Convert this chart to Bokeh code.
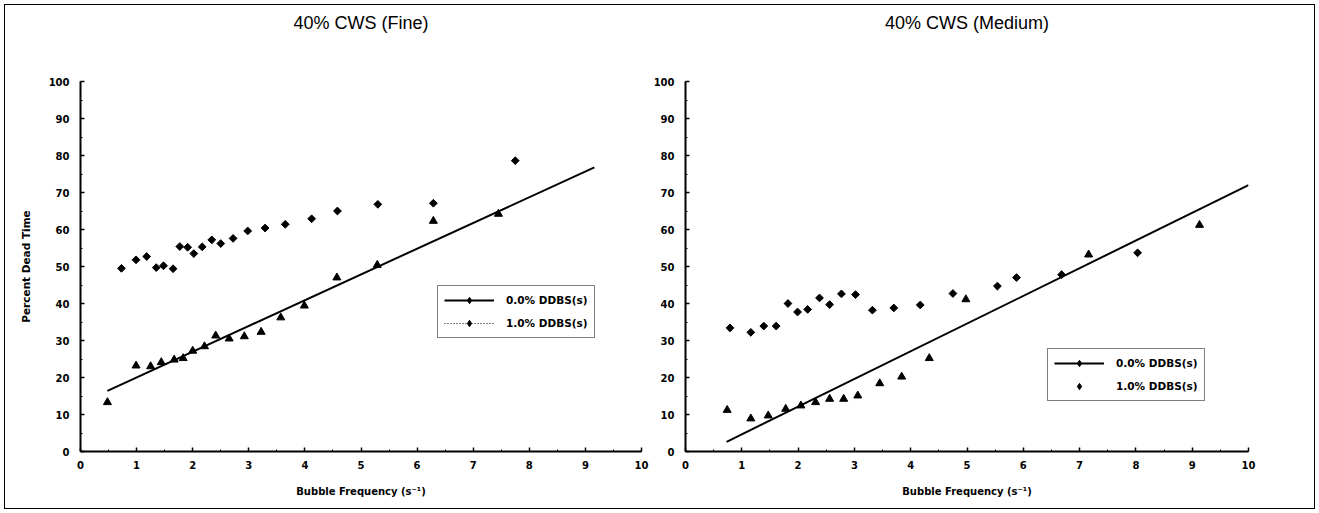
from bokeh.plotting import figure
from bokeh.models import Range1d, SingleIntervalTicker, Legend, LegendItem, ColumnDataSource, Title
from bokeh.layouts import row
from bokeh.embed import file_html
from bokeh.resources import INLINE

# ---------------- data ----------------
titles = ["40% CWS (Fine)", "40% CWS (Medium)"]
series_labels = ["0.0% DDBS(s)", "1.0% DDBS(s)"]
x_label = "Bubble Frequency (s\u207b\u00b9)"
y_label = "Percent Dead Time"

# 40% CWS (Fine)
fine_x0 = [0.48, 0.99, 1.25, 1.44, 1.67, 1.83, 2.00, 2.21, 2.41, 2.65, 2.92, 3.22, 3.57, 3.99, 4.57, 5.29, 6.29, 7.45]
fine_y0 = [13.3, 23.2, 23.0, 24.1, 24.8, 25.2, 27.2, 28.4, 31.3, 30.5, 31.1, 32.3, 36.2, 39.4, 47.0, 50.4, 62.3, 64.2]
fine_x1 = [0.73, 0.99, 1.18, 1.35, 1.48, 1.65, 1.77, 1.91, 2.02, 2.17, 2.34, 2.50, 2.72, 2.98, 3.29, 3.65, 4.12, 4.58, 5.30, 6.29, 7.75]
fine_y1 = [49.5, 51.8, 52.7, 49.7, 50.2, 49.4, 55.4, 55.2, 53.5, 55.3, 57.2, 56.2, 57.6, 59.6, 60.4, 61.4, 62.9, 65.0, 66.8, 67.1, 78.6]
fine_fit_x = [0.48, 9.16]
fine_fit_y = [16.4, 76.8]

# 40% CWS (Medium)
med_x0 = [0.74, 1.16, 1.47, 1.78, 2.05, 2.31, 2.56, 2.81, 3.06, 3.45, 3.84, 4.33, 4.98, 7.16, 9.13]
med_y0 = [11.2, 8.9, 9.7, 11.5, 12.4, 13.3, 14.2, 14.2, 15.1, 18.4, 20.2, 25.2, 41.1, 53.2, 61.2]
med_x1 = [0.79, 1.16, 1.39, 1.61, 1.82, 1.99, 2.17, 2.38, 2.56, 2.77, 3.02, 3.32, 3.70, 4.17, 4.75, 5.54, 5.88, 6.68, 8.03]
med_y1 = [33.4, 32.2, 33.9, 33.9, 40.0, 37.7, 38.4, 41.5, 39.7, 42.6, 42.4, 38.2, 38.8, 39.6, 42.7, 44.7, 47.0, 47.8, 53.7]
med_fit_x = [0.73, 10.0]
med_fit_y = [2.6, 72.0]

SMALL_FONT = "DejaVu Sans"
NAN = float("nan")


def make_fig(title, width, left, right, show_ylabel):
    p = figure(width=width, height=513, output_backend="svg", toolbar_location=None,
               x_range=Range1d(0, 10), y_range=Range1d(0, 100),
               min_border_left=left, min_border_right=right,
               min_border_top=81, min_border_bottom=62)
    p.outline_line_color = None
    p.grid.visible = False
    p.background_fill_color = None
    p.border_fill_color = None

    # visible title (outermost) and a blank spacer title nearest the frame
    p.title.text = title
    p.title.align = "center"
    p.title.text_font = "Liberation Sans"
    p.title.text_font_style = "normal"
    p.title.text_font_size = "18px"
    p.title.text_color = "black"
    p.title.standoff = 0
    p.add_layout(Title(text=" ", text_font_size="10px", standoff=36), "above")

    p.xaxis.ticker = SingleIntervalTicker(interval=1, num_minor_ticks=2)
    p.yaxis.ticker = SingleIntervalTicker(interval=10, num_minor_ticks=2)
    for ax in (p.xaxis, p.yaxis):
        ax.axis_line_color = "black"
        ax.axis_line_width = 2
        ax.major_tick_in = 4
        ax.major_tick_out = 0
        ax.minor_tick_in = 2
        ax.minor_tick_out = 0
        ax.major_tick_line_color = "black"
        ax.minor_tick_line_color = "black"
        ax.major_tick_line_width = 1.5
        ax.major_label_text_font = SMALL_FONT
        ax.major_label_text_font_style = "bold"
        ax.major_label_text_font_size = "10px"
        ax.major_label_text_color = "black"
        ax.axis_label_text_font = SMALL_FONT
        ax.axis_label_text_font_style = "bold"
        ax.axis_label_text_font_size = "10px"
        ax.axis_label_text_color = "black"
    p.yaxis.major_label_standoff = 11
    p.xaxis.major_label_standoff = 9
    p.xaxis.axis_label = x_label
    p.xaxis.axis_label_standoff = 14
    if show_ylabel:
        p.yaxis.axis_label = y_label
        p.yaxis.axis_label_text_font_size = "10.5px"
        p.yaxis.axis_label_standoff = 14
    return p


def style_legend(lg):
    lg.border_line_color = "black"
    lg.border_line_width = 1.5
    lg.background_fill_color = "white"
    lg.background_fill_alpha = 1.0
    lg.label_text_font = SMALL_FONT
    lg.label_text_font_style = "bold"
    lg.label_text_font_size = "10.5px"
    lg.label_text_color = "black"
    lg.glyph_width = 50
    lg.glyph_height = 16
    lg.label_height = 16
    lg.spacing = 7
    lg.padding = 6
    lg.margin = 0
    lg.label_standoff = 12


TRI = dict(marker="triangle", size=8, color="black")
DIA = dict(marker="square", angle=0.785398, size=5.5, color="black")
LEG_DIA = dict(marker="diamond", size=8, color="black")


def dummy_source():
    return ColumnDataSource(data=dict(x=[NAN], y=[NAN]))


# ---------------- left: Fine ----------------
p1 = make_fig(titles[0], 650, 80, 9, True)
fit1 = p1.line(fine_fit_x, fine_fit_y, line_color="black", line_width=2)
p1.scatter(fine_x0, fine_y0, **TRI)
p1.scatter(fine_x1, fine_y1, **DIA)
mk1 = p1.scatter("x", "y", source=dummy_source(), **LEG_DIA)
dot1 = p1.line("x", "y", source=dummy_source(), line_color="black", line_width=1.2, line_dash="1 2")
lg1 = Legend(items=[LegendItem(label=series_labels[0], renderers=[fit1, mk1]),
                    LegendItem(label=series_labels[1], renderers=[dot1, mk1])],
             location=(357, 113))
style_legend(lg1)
p1.add_layout(lg1)

# ---------------- right: Medium ----------------
p2 = make_fig(titles[1], 669, 34, 71, False)
fit2 = p2.line(med_fit_x, med_fit_y, line_color="black", line_width=2)
p2.scatter(med_x0, med_y0, **TRI)
p2.scatter(med_x1, med_y1, **DIA)
mk2 = p2.scatter("x", "y", source=dummy_source(), **LEG_DIA)
lg2 = Legend(items=[LegendItem(label=series_labels[0], renderers=[fit2, mk2]),
                    LegendItem(label=series_labels[1], renderers=[mk2])],
             location=(362, 50))
style_legend(lg2)
p2.add_layout(lg2)

layout = row(p1, p2, styles={"outline": "1.5px solid black", "outline-offset": "-5px"})

open("out.html", "w").write(file_html(layout, INLINE))
